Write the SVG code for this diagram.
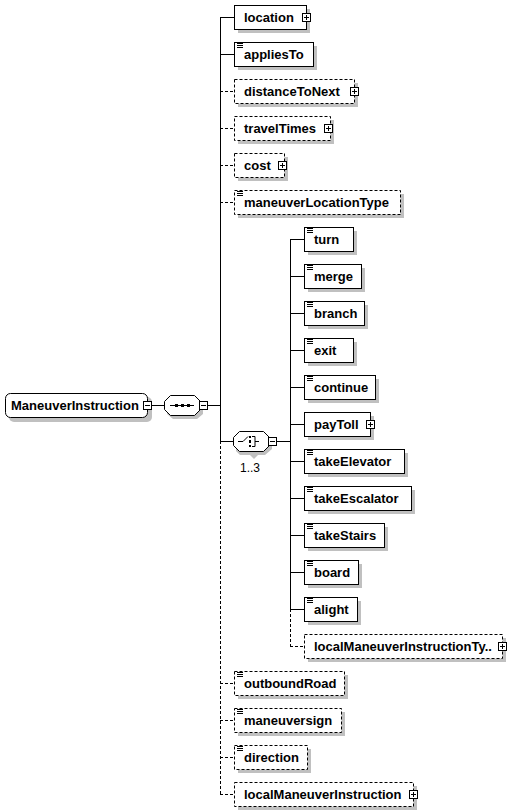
<svg xmlns="http://www.w3.org/2000/svg" xmlns:xlink="http://www.w3.org/1999/xlink" width="524" height="812" viewBox="0 0 524 812">
<style>
.bg{fill:#fff}
.b{fill:#fff;stroke:#000;stroke-width:1}
.d{stroke-dasharray:3,2}
.sh{fill:#c0c0c0}
.t{font-family:"Liberation Sans",Arial,Helvetica,sans-serif;font-weight:bold;font-size:13px;fill:#000}
.m{font-family:"Liberation Sans",Arial,Helvetica,sans-serif;font-size:12px;fill:#000}
.c{stroke:#000;stroke-width:1;fill:none}
</style>
<defs>
<g id="plus"><rect x="0.5" y="0.5" width="8" height="8" fill="#fff" stroke="#000"/><path d="M2 4.5h5M4.5 2v5" stroke="#000"/></g>
<g id="minus"><rect x="0.5" y="0.5" width="8" height="8" fill="#fff" stroke="#000"/><path d="M2 4.5h5" stroke="#000"/></g>
<path id="ic" d="M3 1.5h6M3 3.5h6M3 5.5h6" stroke="#000"/>
</defs>
<rect class="bg" x="0" y="0" width="524" height="812"/>

<g id="connectors">
<path class="c" d="M152 405.5h12M208 405.5h12"/>
<path class="c" d="M220.5 17v424"/>
<path class="c d" d="M220.5 441v353"/>
<path class="c" d="M220 17.5h14M220 54.5h14M220 441.5h13"/>
<path class="c d" d="M220 91.5h14M220 128.5h14M220 165.5h14M220 202.5h14M220 683.5h14M220 720.5h14M220 757.5h14M220 794.5h14"/>
<path class="c" d="M277 441.5h13"/>
<path class="c" d="M290.5 239v370"/>
<path class="c d" d="M290.5 609v37"/>
<path class="c" d="M290 239.5h14M290 276.5h14M290 313.5h14M290 350.5h14M290 387.5h14M290 424.5h14M290 461.5h14M290 498.5h14M290 535.5h14M290 572.5h14M290 609.5h14"/>
<path class="c d" d="M290 646.5h14"/>
</g>

<g id="ManeuverInstruction">
<rect class="sh" x="9" y="397" width="143" height="25" rx="5"/>
<rect class="b" x="5.5" y="393.5" width="142" height="24" rx="5"/>
<text class="t" x="11" y="410">ManeuverInstruction</text>
<use xlink:href="#minus" x="143" y="401"/>
</g>

<g id="sequence">
<polygon class="sh" points="173,399 197,399 203,405 203,414 197,419 173,419 167,414 167,405"/>
<polygon class="b" points="170.5,395.5 194.5,395.5 200.5,401.5 200.5,409.5 194.5,415.5 170.5,415.5 164.5,409.5 164.5,401.5"/>
<path class="c" d="M170 405.5h24"/>
<rect x="175" y="404" width="3" height="3" fill="#000"/>
<rect x="181" y="404" width="3" height="3" fill="#000"/>
<rect x="187" y="404" width="3" height="3" fill="#000"/>
<use xlink:href="#minus" x="199" y="401"/>
</g>

<g id="choice">
<polygon class="sh" points="240,435 265,435 272,441 272,449 265,455 258,455 254,459 250,455 240,455 236,451 236,441"/>
<polygon class="b" points="239.5,431.5 263.5,431.5 269.5,437.5 269.5,445.5 263.5,451.5 239.5,451.5 233.5,445.5 233.5,437.5"/>
<path class="c" d="M238 441.5h5l5 -5"/>
<rect x="249" y="436" width="2" height="2" fill="#000"/>
<rect x="249" y="440" width="2" height="3" fill="#000"/>
<rect x="249" y="445" width="2" height="2" fill="#000"/>
<path class="c" d="M252 436.5h3v10h-3M255 441.5h4"/>
<use xlink:href="#minus" x="268" y="437"/>
<text class="m" x="240" y="472">1..3</text>
</g>

<g id="location">
<rect class="sh" x="238" y="9" width="72" height="24"/>
<rect class="b" x="234.5" y="5.5" width="72" height="24"/>
<text class="t" x="244" y="22">location</text>
<use xlink:href="#plus" x="302" y="13"/>
</g>
<g id="appliesTo">
<rect class="sh" x="238" y="46" width="79" height="24"/>
<rect class="b" x="234.5" y="42.5" width="79" height="24"/>
<use xlink:href="#ic" x="234" y="42"/>
<text class="t" x="244" y="59">appliesTo</text>
</g>
<g id="distanceToNext">
<rect class="sh" x="238" y="83" width="120" height="24"/>
<rect class="b d" x="234.5" y="79.5" width="120" height="24"/>
<text class="t" x="244" y="96">distanceToNext</text>
<use xlink:href="#plus" x="350" y="87"/>
</g>
<g id="travelTimes">
<rect class="sh" x="238" y="120" width="96" height="24"/>
<rect class="b d" x="234.5" y="116.5" width="96" height="24"/>
<text class="t" x="244" y="133">travelTimes</text>
<use xlink:href="#plus" x="324" y="124"/>
</g>
<g id="cost">
<rect class="sh" x="238" y="157" width="50" height="24"/>
<rect class="b d" x="234.5" y="153.5" width="50" height="24"/>
<text class="t" x="244" y="170">cost</text>
<use xlink:href="#plus" x="278" y="161"/>
</g>
<g id="maneuverLocationType">
<rect class="sh" x="238" y="194" width="166" height="24"/>
<rect class="b d" x="234.5" y="190.5" width="166" height="24"/>
<use xlink:href="#ic" x="234" y="190"/>
<text class="t" x="244" y="207">maneuverLocationType</text>
</g>

<g id="turn">
<rect class="sh" x="308" y="231" width="49" height="24"/>
<rect class="b" x="304.5" y="227.5" width="49" height="24"/>
<use xlink:href="#ic" x="304" y="227"/>
<text class="t" x="314" y="244">turn</text>
</g>
<g id="merge">
<rect class="sh" x="308" y="268" width="57" height="24"/>
<rect class="b" x="304.5" y="264.5" width="57" height="24"/>
<use xlink:href="#ic" x="304" y="264"/>
<text class="t" x="314" y="281">merge</text>
</g>
<g id="branch">
<rect class="sh" x="308" y="305" width="60" height="24"/>
<rect class="b" x="304.5" y="301.5" width="60" height="24"/>
<use xlink:href="#ic" x="304" y="301"/>
<text class="t" x="314" y="318">branch</text>
</g>
<g id="exit">
<rect class="sh" x="308" y="342" width="49" height="24"/>
<rect class="b" x="304.5" y="338.5" width="49" height="24"/>
<use xlink:href="#ic" x="304" y="338"/>
<text class="t" x="314" y="355">exit</text>
</g>
<g id="continue">
<rect class="sh" x="308" y="379" width="71" height="24"/>
<rect class="b" x="304.5" y="375.5" width="71" height="24"/>
<use xlink:href="#ic" x="304" y="375"/>
<text class="t" x="314" y="392">continue</text>
</g>
<g id="payToll">
<rect class="sh" x="308" y="416" width="66" height="24"/>
<rect class="b" x="304.5" y="412.5" width="66" height="24"/>
<text class="t" x="314" y="429">payToll</text>
<use xlink:href="#plus" x="366" y="420"/>
</g>
<g id="takeElevator">
<rect class="sh" x="308" y="453" width="100" height="24"/>
<rect class="b" x="304.5" y="449.5" width="100" height="24"/>
<use xlink:href="#ic" x="304" y="449"/>
<text class="t" x="314" y="466">takeElevator</text>
</g>
<g id="takeEscalator">
<rect class="sh" x="308" y="490" width="107" height="24"/>
<rect class="b" x="304.5" y="486.5" width="107" height="24"/>
<use xlink:href="#ic" x="304" y="486"/>
<text class="t" x="314" y="503">takeEscalator</text>
</g>
<g id="takeStairs">
<rect class="sh" x="308" y="527" width="80" height="24"/>
<rect class="b" x="304.5" y="523.5" width="80" height="24"/>
<use xlink:href="#ic" x="304" y="523"/>
<text class="t" x="314" y="540">takeStairs</text>
</g>
<g id="board">
<rect class="sh" x="308" y="564" width="54" height="24"/>
<rect class="b" x="304.5" y="560.5" width="54" height="24"/>
<use xlink:href="#ic" x="304" y="560"/>
<text class="t" x="314" y="577">board</text>
</g>
<g id="alight">
<rect class="sh" x="308" y="601" width="53" height="24"/>
<rect class="b" x="304.5" y="597.5" width="53" height="24"/>
<use xlink:href="#ic" x="304" y="597"/>
<text class="t" x="314" y="614">alight</text>
</g>
<g id="localManeuverInstructionType">
<rect class="sh" x="308" y="638" width="198" height="24"/>
<rect class="b d" x="304.5" y="634.5" width="198" height="24"/>
<text class="t" x="314" y="651">localManeuverInstructionTy..</text>
<use xlink:href="#plus" x="498" y="642"/>
</g>

<g id="outboundRoad">
<rect class="sh" x="238" y="675" width="110" height="24"/>
<rect class="b d" x="234.5" y="671.5" width="110" height="24"/>
<use xlink:href="#ic" x="234" y="671"/>
<text class="t" x="244" y="688">outboundRoad</text>
</g>
<g id="maneuversign">
<rect class="sh" x="238" y="712" width="107" height="24"/>
<rect class="b d" x="234.5" y="708.5" width="107" height="24"/>
<use xlink:href="#ic" x="234" y="708"/>
<text class="t" x="244" y="725">maneuversign</text>
</g>
<g id="direction">
<rect class="sh" x="238" y="749" width="73" height="24"/>
<rect class="b d" x="234.5" y="745.5" width="73" height="24"/>
<use xlink:href="#ic" x="234" y="745"/>
<text class="t" x="244" y="762">direction</text>
</g>
<g id="localManeuverInstruction">
<rect class="sh" x="238" y="786" width="179" height="24"/>
<rect class="b d" x="234.5" y="782.5" width="179" height="24"/>
<text class="t" x="244" y="799">localManeuverInstruction</text>
<use xlink:href="#plus" x="409" y="790"/>
</g>
</svg>
